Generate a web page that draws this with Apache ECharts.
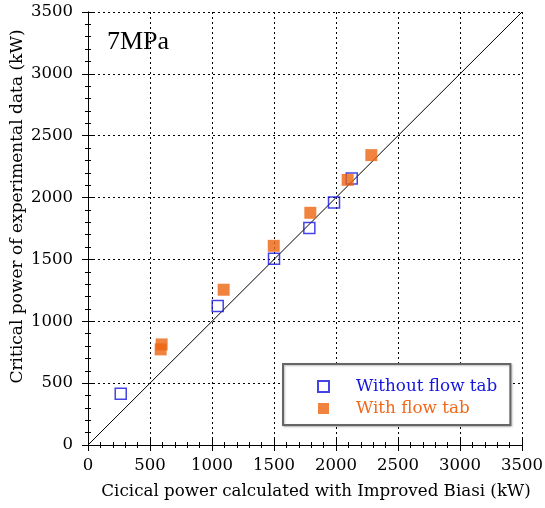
<!DOCTYPE html>
<html>
<head>
<meta charset="utf-8">
<script src="https://cdn.jsdelivr.net/npm/echarts@6/dist/echarts.min.js"></script>
<style>
html, body { margin: 0; padding: 0; background: #fff; }
#main { width: 545px; height: 508px; }
</style>
</head>
<body>
<div id="main"></div>
<script>
// 数据：计算值 (x) 与实验值 (y), 单位 kW
var withoutTabX = [264, 1046, 1500, 1785, 1984, 2127];
var withoutTabY = [414, 1123, 1505, 1755, 1960, 2154];
var withTabX = [594, 586, 1094, 1498, 1793, 2094, 2285];
var withTabY = [813, 773, 1255, 1610, 1877, 2143, 2343];
var diagonal = [0, 3500];

function pairs(xs, ys) {
    var out = [];
    for (var i = 0; i < xs.length; i++) out.push([xs[i], ys[i]]);
    return out;
}

var font = 'DejaVu Serif';
var myChart = echarts.init(document.getElementById('main'));

var baseAxis = {
    min: 0, max: 3500, interval: 500,
    axisLine: { lineStyle: { color: '#000', width: 1 } },
    axisTick: { inside: true, length: 6, lineStyle: { color: '#000' } },
    minorTick: { show: true, splitNumber: 5, length: 3, lineStyle: { color: '#000' } },
    axisLabel: { color: '#000', fontFamily: font, fontSize: 16.5, formatter: function (v) { return String(v); } },
    splitLine: { show: false }
};

function axis(extra) {
    return echarts.util.merge(echarts.util.clone(baseAxis), extra, true);
}

myChart.setOption({
    animation: false,
    grid: { left: 88, right: 23, top: 12, bottom: 63, outerBoundsMode: 'none', containLabel: false },
    //图例
    legend: {
        left: 283, top: 364,
        orient: 'vertical',
        padding: [14, 13, 8, 34],
        itemGap: 5,
        itemWidth: 11, itemHeight: 11,
        borderColor: '#666', borderWidth: 2,
        backgroundColor: '#fff',
        shadowColor: 'rgba(0,0,0,0.25)', shadowBlur: 2, shadowOffsetX: 1, shadowOffsetY: 1,
        textStyle: { fontFamily: font, fontSize: 16.8, padding: [0, 0, 0, 22] },
        data: [
            { name: 'Without flow tab', icon: 'rect', textStyle: { color: '#1515e0' } },
            { name: 'With flow tab', icon: 'rect', textStyle: { color: '#ef6a1c' } }
        ]
    },
    xAxis: [
        axis({
            name: 'Cicical power calculated with Improved Biasi (kW)',
            nameLocation: 'middle', nameGap: 38, nameMoveOverlap: false,
            nameTextStyle: { color: '#000', fontFamily: font, fontSize: 16.7, padding: [0, 0, 0, 22] },
            axisLabel: { margin: 12 },
            splitLine: { show: true, lineStyle: { color: '#000', type: [2, 3], width: 1 } }
        }),
        axis({ position: 'top', axisLabel: { show: false } })
    ],
    yAxis: [
        axis({
            name: 'Critical power of experimental data (kW)',
            nameLocation: 'middle', nameGap: 62, nameMoveOverlap: false,
            nameTextStyle: { color: '#000', fontFamily: font, fontSize: 17, padding: [0, 0, 0, 44] },
            axisLabel: { margin: 15 },
            splitLine: { show: true, lineStyle: { color: '#000', type: [2, 3], width: 1 } }
        }),
        axis({ position: 'right', axisLabel: { show: false } })
    ],
    graphic: [
        { type: 'text', left: 107, top: 29,
          style: { text: '7MPa', font: '26px "Liberation Serif"', fill: '#000' } }
    ],
    series: [
        {
            name: 'y=x', type: 'line', symbol: 'none', silent: true,
            lineStyle: { color: '#000', width: 1 },
            data: pairs(diagonal, diagonal), z: 1
        },
        {
            name: 'Without flow tab', type: 'scatter', symbol: 'rect', symbolSize: 11,
            itemStyle: { color: 'rgba(255,255,255,0)', borderColor: '#1515e0', borderWidth: 1.5 },
            data: pairs(withoutTabX, withoutTabY), z: 2
        },
        {
            name: 'With flow tab', type: 'scatter', symbol: 'rect', symbolSize: 12,
            itemStyle: { color: '#ee6410' },
            data: pairs(withTabX, withTabY), z: 3
        }
    ]
});
</script>
</body>
</html>
